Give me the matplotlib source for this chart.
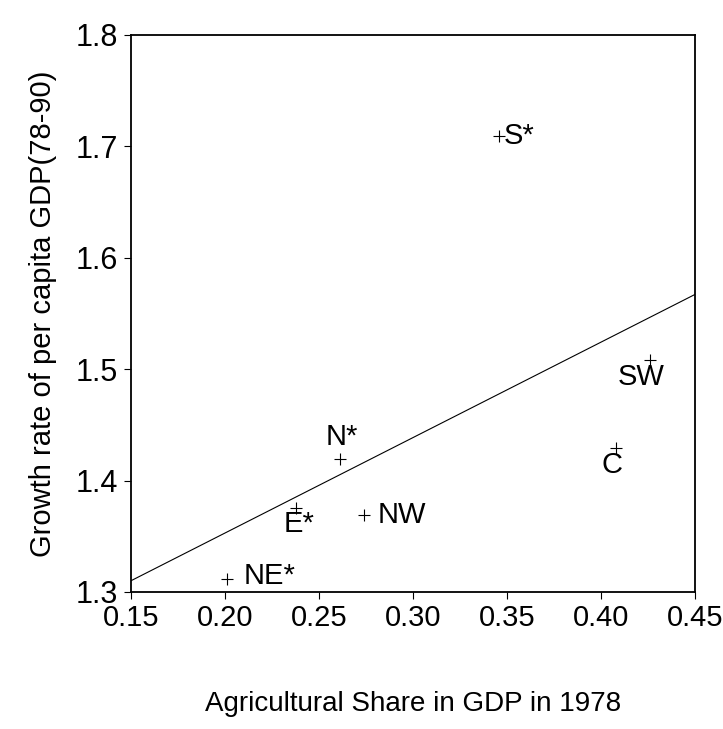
import numpy as np
import matplotlib.pyplot as plt

plt.rcParams['font.family'] = ['Liberation Sans', 'DejaVu Sans']

# regional data: agricultural share (1978) vs growth of per capita GDP (78-90)
regions = ["S*", "SW", "C", "N*", "NW", "E*", "NE*"]
agri_share = [0.346, 0.426, 0.408, 0.261, 0.274, 0.238, 0.201]
growth = [1.709, 1.508, 1.429, 1.419, 1.369, 1.375, 1.312]

# fitted line endpoints
fit_x = [0.15, 0.45]
fit_y = [1.310, 1.567]

# label offsets in points (dx, dy) and alignment
label_pos = {
    "S*": ((3, 0), "left", "center"),
    "SW": ((-6, -2), "center", "top"),
    "C": ((-3, -2), "center", "top"),
    "N*": ((2, 6), "center", "bottom"),
    "NW": ((10, 0), "left", "center"),
    "E*": ((2, -1), "center", "top"),
    "NE*": ((12, 2), "left", "center"),
}

fig = plt.figure(figsize=(7.23, 7.29), dpi=100)
ax = fig.add_axes([0.181, 0.188, 0.780, 0.764])

ax.plot(fit_x, fit_y, color="black", lw=0.8)
ax.plot(agri_share, growth, linestyle="none", marker="+", color="black",
        markersize=9, mew=0.8)

for name, xv, yv in zip(regions, agri_share, growth):
    (dx, dy), ha, va = label_pos[name]
    ax.annotate(name, (xv, yv), xytext=(dx, dy), textcoords="offset points",
                ha=ha, va=va, fontsize=21)

ax.set_xlim(0.15, 0.45)
ax.set_ylim(1.3, 1.8)
ax.set_xticks(np.arange(0.15, 0.451, 0.05))
ax.set_xticklabels(["0.15", "0.20", "0.25", "0.30", "0.35", "0.40", "0.45"])
ax.set_yticks(np.arange(1.3, 1.81, 0.1))
ax.set_yticklabels(["1.3", "1.4", "1.5", "1.6", "1.7", "1.8"])
ax.tick_params(direction="out", length=5, width=0.8, pad=4)
ax.tick_params(axis="x", labelsize=21)
ax.tick_params(axis="y", labelsize=22)

for sp in ax.spines.values():
    sp.set_linewidth(1.3)

ax.set_xlabel("Agricultural Share in GDP in 1978", fontsize=20, labelpad=42)
ax.set_ylabel("Growth rate of per capita GDP(78-90)", fontsize=21, labelpad=14)

fig.savefig("out.png", dpi=100)
